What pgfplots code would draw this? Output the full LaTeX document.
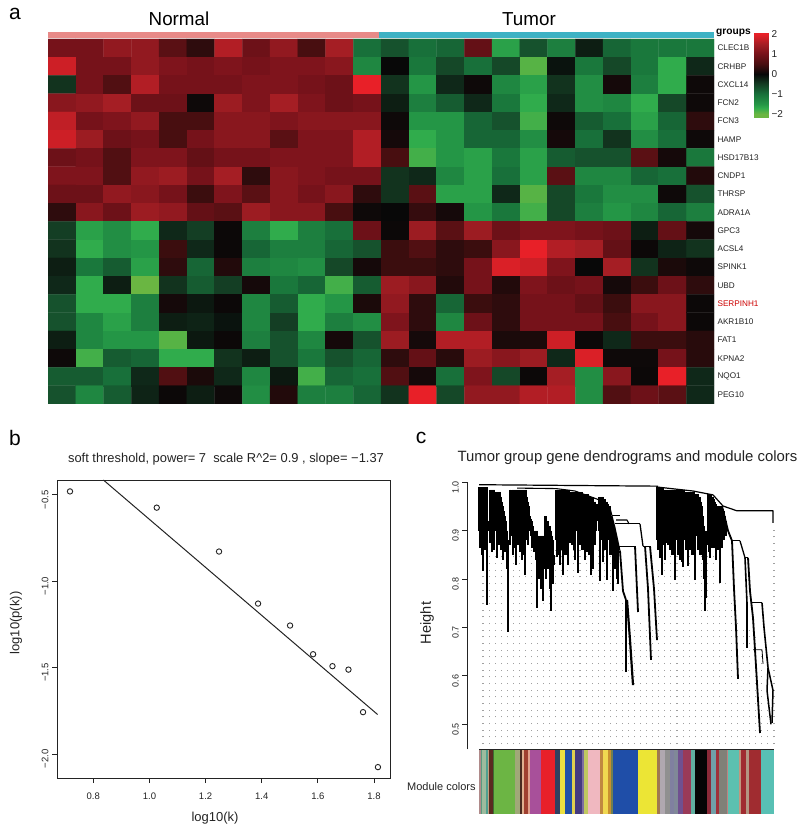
\documentclass[border=0pt]{standalone}
\usepackage{fontspec}
\setmainfont{Liberation Sans}
\usepackage{pgfplots}
\pgfplotsset{compat=1.18}
\pgfplotsset{colormap={gbr}{[1pt] rgb255(0pt)=(106,182,66) rgb255(3pt)=(48,172,76) rgb255(5pt)=(36,150,70) rgb255(10pt)=(24,112,58) rgb255(15pt)=(20,62,36) rgb255(20pt)=(8,8,8) rgb255(25pt)=(72,14,16) rgb255(30pt)=(118,18,26) rgb255(35pt)=(165,30,36) rgb255(40pt)=(232,32,40)}}
\newcommand{\fs}[1]{\fontsize{#1}{#1}\selectfont}
\newcommand{\mb}[5]{\addplot[fill={rgb,255:red,#3;green,#4;blue,#5},draw=none] coordinates {(#1,0)(#2,0)(#2,1)(#1,1)} --cycle;}
\newcommand{\st}[2]{\addplot[black,line width=#1,line join=round] coordinates {#2};}
\definecolor{axc}{RGB}{35,35,35}
\begin{document}
\begin{tikzpicture}
\useasboundingbox (0,0) rectangle (800pt,829pt);
% panel a: group strip
\begin{axis}[at={(48pt,791pt)},anchor=south west,scale only axis,width=666pt,height=6pt,hide axis,xmin=0,xmax=24,ymin=0,ymax=1]
\addplot[fill={rgb,255:red,232;green,138;blue,136},draw=none] coordinates {(0,0)(11.93,0)(11.93,1)(0,1)} --cycle;
\addplot[fill={rgb,255:red,62;green,178;blue,196},draw=none] coordinates {(11.93,0)(24,0)(24,1)(11.93,1)} --cycle;
\end{axis}
% panel a: heat map
\begin{axis}[at={(48pt,425pt)},anchor=south west,scale only axis,width=666pt,height=365pt,
 xmin=-0.5,xmax=23.5,ymin=-0.5,ymax=19.5,y dir=reverse,axis line style={draw=none},xtick=\empty,
 ytick={0,1,2,3,4,5,6,7,8,9,10,11,12,13,14,15,16,17,18,19},
 yticklabels={CLEC1B,CRHBP,CXCL14,FCN2,FCN3,HAMP,HSD17B13,CNDP1,THRSP,ADRA1A,GPC3,ACSL4,SPINK1,UBD,\textcolor{red!80!black}{SERPINH1},AKR1B10,FAT1,KPNA2,NQO1,PEG10},
 yticklabel pos=right,major tick length=0pt,
 yticklabel style={font=\fs{8.2},anchor=west,xshift=0pt,text=axc},
 colormap name=gbr,point meta min=-2,point meta max=2]
\addplot[matrix plot*,mesh/cols=24,point meta=explicit,draw=mapped color] table[row sep=crcr,x expr={mod(\coordindex,24)},y expr={floor((\coordindex+0.5)/24)},meta=z] {
z\\
1.0\\1.0\\1.3\\1.3\\0.7\\0.3\\1.6\\0.9\\1.3\\0.5\\1.5\\-1.0\\-0.7\\-1.0\\-0.9\\0.8\\-1.6\\-0.7\\-1.2\\-0.2\\-0.9\\-1.1\\-1.1\\-1.1\\
1.8\\1.0\\1.0\\1.3\\1.1\\1.0\\1.1\\1.0\\1.1\\1.1\\1.2\\-1.3\\0.0\\-1.1\\-0.6\\-1.0\\-0.6\\-1.9\\-0.1\\-1.1\\-0.6\\-1.1\\-1.7\\-0.3\\
-0.4\\1.0\\0.6\\1.6\\1.0\\1.0\\1.0\\1.1\\1.1\\1.0\\0.9\\2.0\\-0.4\\-1.5\\-0.3\\0.05\\-1.3\\-1.6\\-0.4\\-1.4\\0.1\\-1.2\\-1.7\\0.05\\
1.2\\1.3\\1.5\\0.9\\0.9\\0.05\\1.4\\1.1\\1.5\\1.1\\0.9\\1.0\\-0.2\\-1.2\\-0.8\\-0.3\\-1.1\\-1.7\\-0.3\\-1.4\\-1.3\\-1.7\\-0.6\\0.05\\
1.7\\1.0\\1.1\\1.3\\0.5\\0.5\\1.2\\1.2\\1.1\\1.2\\1.2\\1.2\\0.05\\-1.5\\-1.5\\-0.9\\-0.7\\-1.8\\0.05\\-0.8\\-1.0\\-1.6\\-0.9\\0.3\\
1.8\\1.4\\0.9\\1.0\\0.5\\1.0\\1.2\\1.2\\0.7\\1.1\\1.1\\1.6\\0.1\\-1.7\\-1.5\\-0.9\\-0.9\\-1.4\\0.1\\-1.0\\-0.4\\-1.4\\-1.0\\0.05\\
0.9\\1.0\\0.6\\1.1\\1.1\\0.8\\1.0\\1.0\\1.1\\1.1\\1.1\\1.6\\0.5\\-1.8\\-1.5\\-1.6\\-1.1\\-1.6\\-0.8\\-0.7\\-0.7\\0.7\\0.1\\-1.1\\
1.1\\1.1\\0.6\\1.3\\1.4\\1.0\\1.5\\0.3\\1.2\\1.1\\1.0\\1.0\\-0.4\\-0.3\\-1.3\\-1.6\\-1.0\\-1.6\\0.7\\-1.3\\-1.3\\-0.9\\-1.0\\0.2\\
0.9\\0.9\\1.3\\1.2\\1.0\\0.4\\1.1\\0.7\\1.2\\1.0\\1.2\\0.3\\-0.4\\0.7\\-1.6\\-1.6\\-0.3\\-1.9\\-0.6\\-1.1\\-1.4\\-1.4\\0.05\\-0.7\\
0.3\\1.2\\0.9\\1.4\\1.3\\0.8\\0.7\\1.4\\1.2\\1.2\\0.5\\0.05\\0.0\\0.35\\0.1\\-1.5\\-1.1\\-1.8\\-0.6\\-1.2\\-1.5\\-1.3\\-0.9\\-1.2\\
-0.5\\-1.6\\-1.4\\-1.7\\-0.3\\-0.5\\0.03\\-1.2\\-1.7\\-1.2\\-1.0\\0.9\\0.03\\1.4\\0.7\\1.4\\0.9\\1.1\\1.1\\1.0\\0.9\\-0.2\\0.8\\0.1\\
-0.4\\-1.7\\-1.4\\-1.5\\0.4\\-0.3\\0.03\\-0.9\\-1.2\\-1.2\\-0.9\\-0.7\\0.4\\0.6\\0.3\\0.4\\1.2\\2.0\\1.6\\1.5\\0.8\\0.03\\-0.25\\-0.4\\
-0.2\\-1.1\\-0.8\\-1.6\\0.3\\-0.9\\0.2\\-1.2\\-1.3\\-1.4\\-0.6\\0.1\\0.4\\0.4\\0.3\\1.0\\1.9\\1.8\\1.1\\0.0\\1.5\\-0.4\\0.15\\0.05\\
-0.3\\-1.7\\-0.2\\-2.0\\-0.4\\-0.8\\-0.5\\0.1\\-1.1\\-0.9\\-1.8\\-0.8\\1.4\\1.2\\0.2\\1.0\\0.2\\1.1\\0.9\\1.0\\0.1\\0.4\\0.9\\0.3\\
-0.7\\-1.7\\-1.7\\-1.2\\0.1\\-0.15\\0.03\\-1.3\\-0.8\\-1.7\\-1.5\\0.15\\1.3\\0.3\\-0.9\\0.4\\0.3\\1.0\\1.0\\0.8\\0.4\\1.2\\1.2\\0.03\\
-0.7\\-1.3\\-1.6\\-1.2\\-0.2\\-0.25\\-0.1\\-1.3\\-0.5\\-1.7\\-1.2\\-1.4\\1.1\\0.3\\-1.3\\0.9\\0.3\\1.0\\1.0\\1.0\\0.5\\1.0\\1.2\\0.03\\
-0.2\\-1.3\\-1.5\\-1.5\\-1.9\\-0.15\\0.03\\-1.2\\-0.7\\-1.3\\0.1\\-0.7\\1.4\\0.1\\1.6\\1.6\\0.15\\0.15\\1.8\\0.03\\-0.3\\0.4\\0.4\\0.25\\
0.05\\-1.8\\-0.8\\-0.9\\-1.7\\-1.7\\-0.4\\-0.2\\-0.7\\-1.1\\-0.7\\-0.9\\0.3\\0.8\\0.25\\1.4\\1.2\\1.4\\-0.3\\1.9\\0.05\\0.05\\1.0\\0.25\\
-0.8\\-0.8\\-1.0\\-0.3\\0.6\\0.15\\-0.3\\-1.3\\-0.15\\-1.8\\-0.9\\-1.0\\0.6\\0.1\\-1.0\\1.1\\-0.6\\0.03\\1.5\\-1.4\\1.2\\0.03\\2.0\\-0.3\\
-0.7\\-1.3\\-0.8\\-0.25\\0.03\\-0.2\\0.05\\-1.4\\0.2\\-1.2\\-1.2\\-0.9\\-0.4\\2.0\\-0.6\\1.3\\1.3\\1.6\\1.6\\-1.4\\0.6\\0.9\\0.7\\-0.3\\
};
\end{axis}
% colour key
\begin{axis}[at={(754pt,711pt)},anchor=south west,scale only axis,width=14pt,height=85pt,xmin=0,xmax=1,ymin=-2.2,ymax=2.05,
 axis line style={draw=none},xtick=\empty,ytick={-2,-1,0,1,2},yticklabels={−2,−1,0,1,2},yticklabel pos=right,major tick length=0pt,
 yticklabel style={font=\fs{10},anchor=west,xshift=0pt,text=axc},colormap name=gbr,point meta min=-2,point meta max=2]
\addplot[surf,shader=interp,point meta=y,mesh/cols=2] coordinates {(0,-2.2)(1,-2.2)(0,-2)(1,-2)(0,-1.7)(1,-1.7)(0,-1.5)(1,-1.5)(0,-1)(1,-1)(0,-0.5)(1,-0.5)(0,0)(1,0)(0,0.5)(1,0.5)(0,1)(1,1)(0,1.5)(1,1.5)(0,2)(1,2)(0,2.05)(1,2.05)};
\end{axis}
% panel b
\begin{axis}[at={(57pt,51pt)},anchor=south west,scale only axis,width=333pt,height=298pt,
 xmin=0.6707,xmax=1.857,ymin=-2.139,ymax=-0.415,
 axis line style={axc,line width=0.9pt},tick style={axc,line width=0.8pt},tick align=outside,tick pos=left,major tick length=5pt,
 xtick={0.8,1.0,1.2,1.4,1.6,1.8},xticklabels={0.8,1.0,1.2,1.4,1.6,1.8},
 ytick={-2,-1.5,-1,-0.5},yticklabels={−2.0,−1.5,−1.0,−0.5},
 xticklabel style={font=\fs{9.5},text=axc,yshift=-6pt},
 yticklabel style={font=\fs{9.5},text=axc,rotate=90,anchor=south,xshift=-5pt}]
\addplot[axc,line width=1pt] coordinates {(0.836,-0.415)(1.813,-1.772)};
\addplot[only marks,mark=o,mark size=2.7pt,mark options={axc,line width=0.9pt}] coordinates {(0.717,-0.481)(1.026,-0.575)(1.248,-0.829)(1.387,-1.130)(1.501,-1.257)(1.583,-1.423)(1.652,-1.492)(1.709,-1.512)(1.761,-1.758)(1.814,-2.076)};
\end{axis}
% panel c: dendrogram
\begin{axis}[at={(467.3pt,79.7pt)},anchor=south west,scale only axis,width=312.7pt,height=267pt,
 xmin=467.3,xmax=780,ymin=0.4483,ymax=1.0,clip=false,
 axis x line=none,axis y line*=left,axis line style={axc,line width=0.9pt},tick style={axc,line width=0.8pt},tick align=outside,major tick length=5pt,
 ytick={0.5,0.6,0.7,0.8,0.9,1.0},yticklabels={0.5,0.6,0.7,0.8,0.9,1.0},
 yticklabel style={font=\fs{9},text=axc,rotate=90,anchor=south,xshift=-5pt}]
% guide dots
\addplot[draw=none,mark=none,forget plot,error bars/.cd,y dir=plus,y explicit,error mark=none,error bar style={draw={rgb,255:red,160;green,160;blue,160},line width=1.1pt,dash pattern=on 1.1pt off 5.57pt}] table[x=x,y expr=0.459,y error expr=\thisrow{t}-0.459] {
x t
483 .85
489.1 .85
495.1 .85
501.2 .85
507.3 .85
513.3 .87
519.4 .87
525.4 .87
531.5 .87
537.6 .87
543.6 .87
549.7 .85
555.8 .86
561.8 .87
567.9 .87
573.9 .87
580 .87
586.1 .87
592.1 .87
598.2 .87
604.3 .87
610.3 .87
616.4 .82
622.4 .76
628.5 .72
634.6 .72
640.6 .72
646.7 .70
652.8 .70
658.8 .82
664.9 .85
670.9 .85
677 .85
683.1 .85
689.1 .85
695.2 .85
701.3 .85
707.3 .85
713.4 .85
719.4 .85
725.5 .80
731.6 .75
737.6 .72
743.7 .70
749.8 .70
755.8 .68
761.9 .66
767.9 .62
774 .905
};
% leaves
\addplot[draw=none,mark=none,forget plot,error bars/.cd,y dir=minus,y explicit,error mark=none,error bar style={draw=black,line width=1.15pt}] table[x=x,y=t,y error expr=\thisrow{t}-\thisrow{b}] {
x t b
479 .99 .90
480 .99 .865
481 .99 .885
482 .99 .85
483 .99 .817
484 .99 .88
485 .99 .86
486 .99 .90
487 .99 .746
488 .92 .90
489 .92 .90
490 .985 .875
491 .985 .89
492 .985 .855
493 .985 .90
494 .985 .86
495 .98 .91
496 .98 .90
497 .98 .844
498 .98 .90
499 .98 .87
500 .98 .90
501 .97 .86
502 .96 .89
503 .95 .84
504 .94 .885
505 .93 .855
506 .92 .87
507 .90 .82
508 .88 .69
510 .985 .87
512 .985 .89
513 .985 .85
514 .985 .88
515 .985 .865
516 .985 .829
517 .985 .91
518 .985 .87
519 .985 .89
520 .985 .855
521 .985 .885
522 .985 .84
523 .985 .875
524 .985 .85
525 .985 .809
526 .985 .88
527 .97 .895
528 .96 .87
529 .95 .90
530 .93 .91
531 .925 .89
532 .92 .865
533 .91 .89
534 .90 .855
535 .90 .885
536 .90 .84
537 .90 .74
538 .89 .85
539 .88 .80
540 .89 .85
541 .89 .78
542 .89 .83
543 .89 .755
544 .89 .82
545 .93 .86
546 .93 .80
547 .92 .87
548 .92 .82
549 .91 .85
550 .91 .78
551 .90 .734
552 .89 .85
553 .88 .79
554 .85 .83
556 .985 .88
557 .985 .845
558 .985 .87
559 .985 .85
560 .985 .83
561 .985 .88
562 .985 .86
563 .985 .809
564 .985 .87
565 .985 .85
566 .985 .885
567 .985 .85
568 .985 .829
569 .985 .91
570 .98 .875
571 .98 .89
572 .98 .87
573 .98 .90
574 .98 .86
575 .98 .84
576 .98 .91
577 .98 .90
578 .98 .812
579 .98 .91
580 .98 .87
581 .98 .89
582 .98 .86
583 .975 .885
584 .975 .86
585 .975 .84
586 .975 .885
587 .975 .855
588 .975 .88
589 .97 .85
590 .97 .87
591 .97 .808
592 .97 .84
593 .97 .82
594 .96 .88
595 .96 .87
596 .955 .90
597 .955 .92
598 .95 .93
599 .97 .90
600 .97 .796
601 .97 .88
602 .97 .89
603 .97 .835
604 .965 .89
605 .965 .86
606 .96 .88
607 .96 .798
608 .955 .88
609 .95 .89
610 .95 .85
611 .93 .88
612 .925 .85
613 .92 .776
614 .91 .85
615 .90 .82
616 .89 .84
617 .88 .80
618 .87 .79
657 .99 .88
658 .99 .86
659 .99 .88
660 .99 .844
661 .99 .885
662 .99 .808
663 .99 .87
664 .985 .89
665 .985 .84
666 .985 .875
667 .985 .89
668 .985 .87
669 .985 .895
670 .985 .86
671 .985 .885
672 .985 .85
673 .985 .88
674 .985 .85
675 .985 .798
676 .985 .88
677 .985 .89
678 .985 .85
679 .985 .87
680 .985 .84
681 .985 .86
682 .985 .835
683 .985 .825
684 .985 .88
685 .98 .89
686 .98 .86
687 .98 .875
688 .98 .827
689 .98 .89
690 .98 .86
691 .98 .875
692 .98 .85
693 .98 .89
694 .98 .85
695 .975 .798
696 .975 .89
697 .975 .895
698 .975 .86
699 .97 .875
700 .97 .85
701 .96 .88
702 .95 .85
703 .93 .84
704 .91 .80
705 .90 .734
706 .89 .76
707 .90 .87
708 .975 .88
709 .975 .855
710 .975 .844
711 .975 .88
712 .97 .865
713 .97 .89
714 .965 .865
715 .96 .885
716 .955 .84
717 .95 .875
718 .95 .86
719 .95 .885
720 .95 .792
721 .95 .88
722 .95 .865
723 .945 .895
724 .94 .88
725 .93 .90
726 .92 .89
727 .91 .90
};
% deep leaf tips, heavier
\addplot[draw=none,mark=none,forget plot,error bars/.cd,y dir=minus,y explicit,error mark=none,error bar style={draw=black,line width=1.9pt}] table[x=x,y=t,y error expr=\thisrow{t}-\thisrow{b}] {
x t b
483 .87 .822
487 .87 .75
497 .87 .85
508 .88 .695
516 .86 .835
525 .86 .815
537 .86 .745
543 .86 .76
551 .86 .74
563 .87 .815
568 .87 .835
578 .87 .817
585 .87 .845
591 .87 .813
600 .87 .80
607 .87 .803
613 .87 .78
660 .87 .85
662 .87 .813
675 .87 .803
683 .87 .83
688 .87 .832
695 .87 .803
705 .88 .74
710 .87 .85
720 .87 .797
};
% upper branches
\st{1.2pt}{(479,.995)(658,.992)}
\st{1.1pt}{(517,.988)(556,.987)(575,.982)(600,.963)(610,.947)(615,.906)(620,.858)}
\st{1.8pt}{(620,.858)(623,.775)(626,.757)}
\st{1.7pt}{(626,.757)(626,.608)}
\st{2.2pt}{(627,.757)(630,.674)(633,.581)}
\st{1.1pt}{(615,.914)(640,.914)}
\st{1.1pt}{(618,.868)(635,.868)}
\st{1.8pt}{(635,.868)(638,.732)}
\st{1.1pt}{(612,.932)(620,.932)}
\st{1.1pt}{(616,.922)(627,.922)(629,.914)}
\st{1.3pt}{(640,.914)(643,.868)}
\st{1.1pt}{(643,.868)(650,.868)}
\st{1.8pt}{(650,.868)(654,.78)(657,.674)}
\st{1.8pt}{(645,.868)(648,.78)(651,.633)}
\st{1.2pt}{(658,.99)(693,.982)(713,.974)(723,.951)(737,.941)(773,.941)(773,.916)}
\st{1.8pt}{(722,.951)(728,.90)(732,.879)}
\st{1.1pt}{(732,.879)(740,.879)}
\st{1.8pt}{(732,.879)(734,.78)(736,.70)(738,.594)}
\st{1.3pt}{(740,.879)(745,.844)}
\st{1.1pt}{(745,.844)(748,.844)}
\st{1.6pt}{(745,.844)(747,.75)(747,.658)}
\st{1.8pt}{(748,.844)(750,.775)(753,.72)(756,.62)(760,.482)}
\st{1.1pt}{(752,.751)(762,.751)}
\st{1.6pt}{(762,.751)(764,.70)(768,.617)}
\st{1.5pt}{(768,.617)(767,.57)(771,.50)}
\st{1.5pt}{(768,.617)(773,.57)(772,.503)}
\st{0.8pt}{(753,.654)(762,.654)(763,.625)}
\end{axis}
% panel c: module colours
\begin{axis}[at={(479pt,15pt)},anchor=south west,scale only axis,width=295pt,height=65pt,hide axis,xmin=237,xmax=1122,ymin=0,ymax=1]
\mb{237}{243}{176}{138}{138}
\mb{243}{247}{90}{154}{128}
\mb{247}{258}{157}{187}{157}
\mb{258}{263}{80}{160}{144}
\mb{263}{268}{192}{160}{128}
\mb{268}{278}{90}{42}{32}
\mb{278}{282}{60}{110}{50}
\mb{282}{345}{108}{181}{68}
\mb{345}{360}{160}{168}{120}
\mb{360}{365}{74}{42}{32}
\mb{365}{373}{224}{176}{144}
\mb{373}{385}{160}{64}{48}
\mb{385}{390}{224}{160}{140}
\mb{390}{422}{168}{80}{154}
\mb{422}{465}{232}{32}{42}
\mb{465}{480}{48}{64}{96}
\mb{480}{495}{236}{224}{64}
\mb{495}{517}{32}{80}{168}
\mb{517}{526}{224}{208}{80}
\mb{526}{545}{69}{58}{128}
\mb{545}{553}{128}{112}{160}
\mb{553}{565}{192}{200}{96}
\mb{565}{600}{240}{184}{192}
\mb{600}{610}{192}{136}{64}
\mb{610}{625}{240}{216}{80}
\mb{625}{632}{200}{144}{48}
\mb{632}{640}{112}{128}{80}
\mb{640}{713}{31}{78}{168}
\mb{713}{772}{236}{229}{53}
\mb{772}{780}{160}{120}{80}
\mb{780}{795}{176}{168}{176}
\mb{795}{810}{144}{144}{144}
\mb{810}{822}{128}{128}{160}
\mb{822}{835}{128}{136}{152}
\mb{835}{850}{112}{80}{144}
\mb{850}{872}{154}{58}{88}
\mb{872}{884}{96}{176}{160}
\mb{884}{921}{5}{5}{5}
\mb{921}{933}{138}{42}{56}
\mb{933}{948}{112}{160}{168}
\mb{948}{957}{160}{48}{56}
\mb{957}{980}{128}{128}{120}
\mb{980}{985}{190}{130}{130}
\mb{985}{1018}{92}{192}{176}
\mb{1018}{1024}{192}{152}{128}
\mb{1024}{1038}{160}{44}{48}
\mb{1038}{1046}{180}{150}{130}
\mb{1046}{1082}{160}{44}{48}
\mb{1082}{1122}{88}{192}{180}
\addplot[axc,line width=0.7pt] coordinates {(237,1)(1122,1)};
\addplot[axc,line width=0.7pt] coordinates {(237,0)(1122,0)};
\end{axis}
% text
\node[text=black] at (15pt,815pt) {\fs{21}a};
\node[text=black] at (15pt,391pt) {\fs{21}b};
\node[text=black] at (421pt,391pt) {\fs{21}c};
\node[text=black] at (179pt,810pt) {\fs{18.8}Normal};
\node[text=black] at (529pt,810pt) {\fs{18.8}Tumor};
\node[anchor=west,text=black,inner sep=0pt] at (716pt,796pt) {\fs{10.2}\bfseries groups};
\node[text=axc] at (226pt,370pt) {\fs{12.9}soft threshold, power= 7\ \ scale R\textasciicircum2= 0.9 , slope= −1.37};
\node[text=axc] at (215pt,11pt) {\fs{13}log10(k)};
\node[text=axc,rotate=90] at (16pt,206pt) {\fs{13}log10(p(k))};
\node[text=axc] at (627.5pt,371pt) {\fs{14.9}Tumor group gene dendrograms and module colors};
\node[text=axc,rotate=90] at (427pt,206pt) {\fs{14.6}Height};
\node[text=axc,anchor=west,inner sep=0pt] at (407pt,42pt) {\fs{11}Module colors};
\end{tikzpicture}
\end{document}
